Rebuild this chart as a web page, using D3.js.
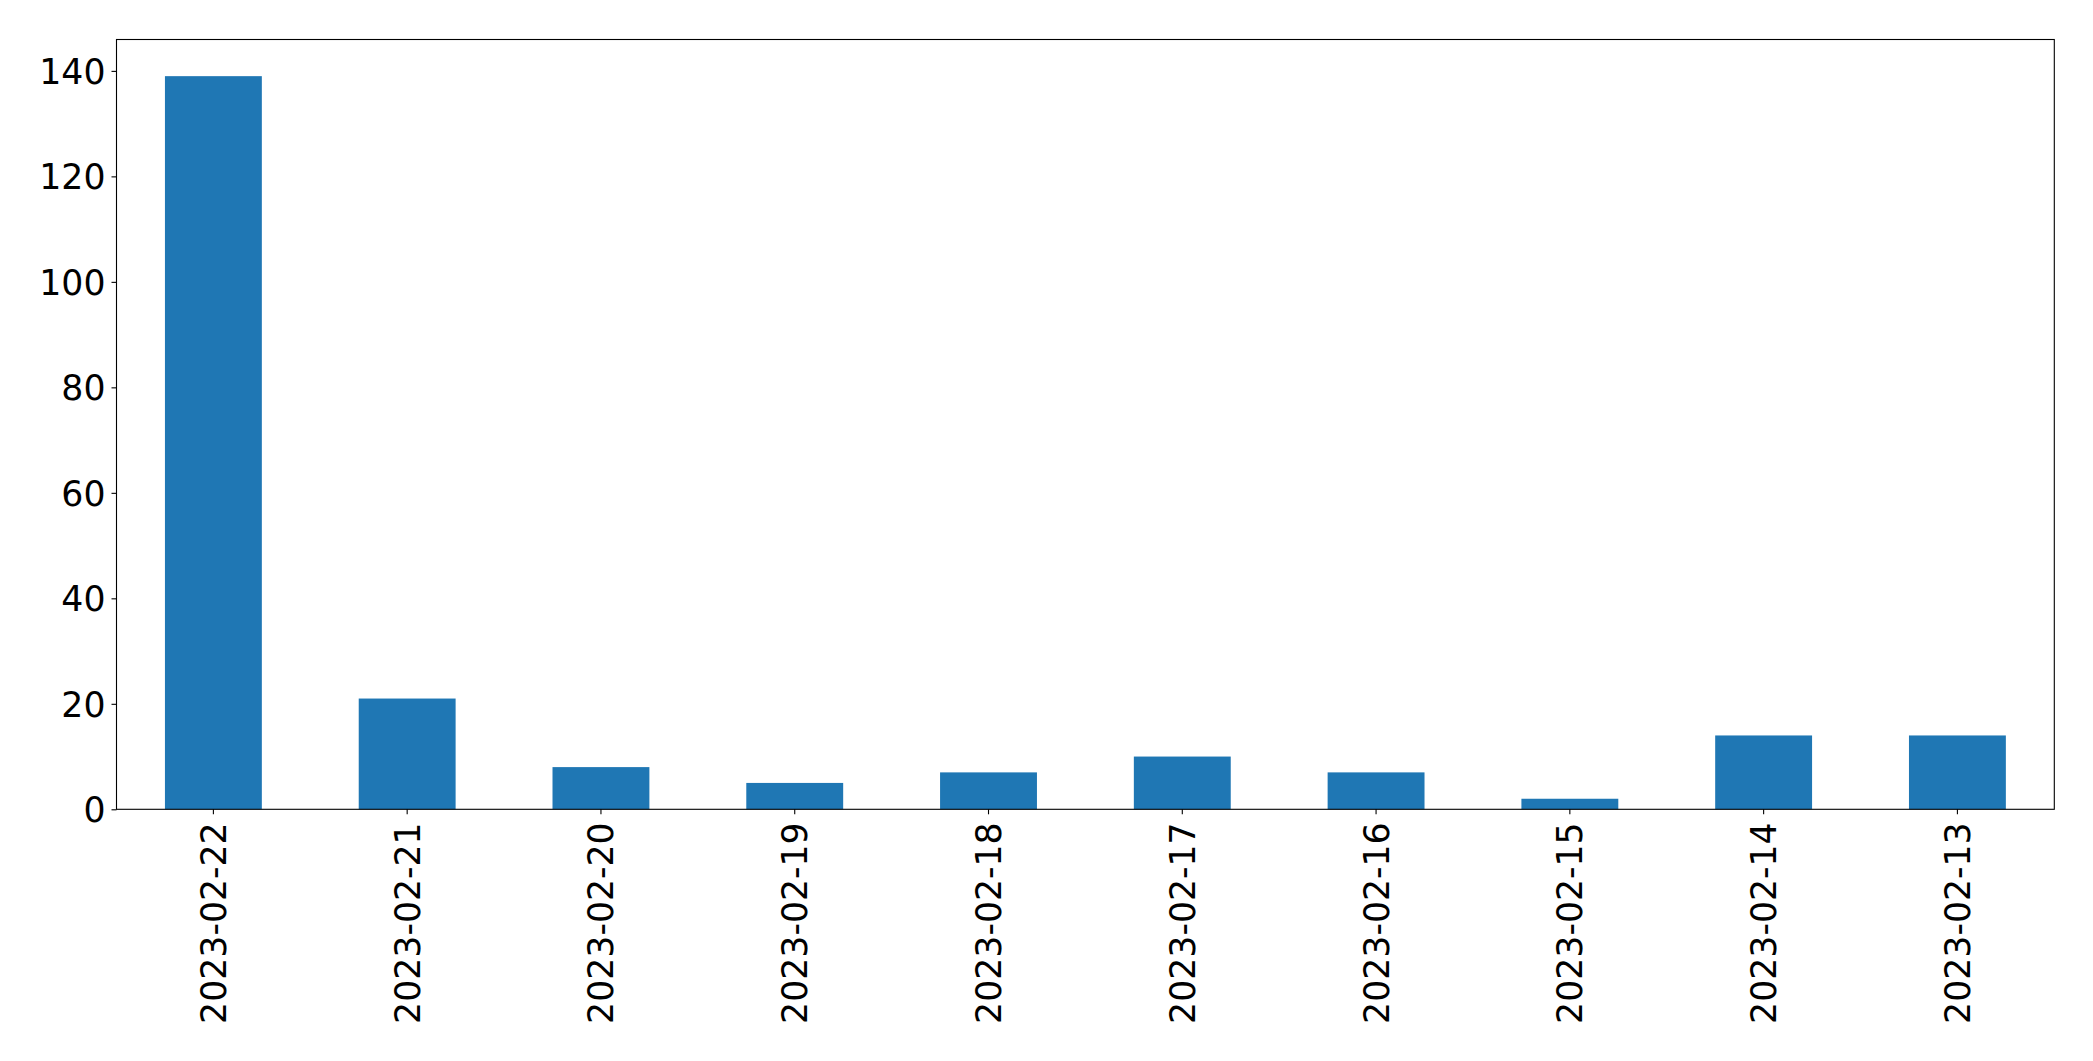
<!DOCTYPE html>
<html>
<head>
<meta charset="utf-8">
<script src="https://cdn.jsdelivr.net/npm/d3@7"></script>
<style>
  html, body { margin: 0; padding: 0; background: #fff; }
  svg { display: block; }
</style>
</head>
<body>
<svg id="chart" width="2093" height="1061"></svg>
<script>
const categories = ["2023-02-22","2023-02-21","2023-02-20","2023-02-19","2023-02-18","2023-02-17","2023-02-16","2023-02-15","2023-02-14","2023-02-13"];
const values = [139, 21, 8, 5, 7, 10, 7, 2, 14, 14];
const yTicks = [0, 20, 40, 60, 80, 100, 120, 140];

const W = 2093, H = 1061;
const margin = {left: 116.5, top: 39.5, right: W - 2054.3, bottom: H - 809.3};
const iw = W - margin.left - margin.right;
const ih = H - margin.top - margin.bottom;
const fontFamily = "'DejaVu Sans', sans-serif";
const fontSize = 34.7;

const svg = d3.select("#chart");
const g = svg.append("g").attr("transform", `translate(${margin.left},${margin.top})`);

const x = d3.scaleBand().domain(categories).range([0, iw]).paddingInner(0.5).paddingOuter(0.25);
const y = d3.scaleLinear().domain([0, d3.max(values) * 1.05]).range([ih, 0]);

g.selectAll("rect.bar").data(values).join("rect")
  .attr("class", "bar")
  .attr("x", (d, i) => x(categories[i]))
  .attr("width", x.bandwidth())
  .attr("y", d => y(d))
  .attr("height", d => y(0) - y(d))
  .attr("fill", "#1f77b4");

// Y axis
const yAxis = g.append("g").call(d3.axisLeft(y).tickValues(yTicks).tickSize(5).tickPadding(6).tickFormat(d3.format("d")));
yAxis.select(".domain").remove();
yAxis.selectAll(".tick line").attr("stroke", "#000").attr("stroke-width", 1.1);
yAxis.selectAll(".tick text").attr("font-family", fontFamily).attr("font-size", fontSize).attr("fill", "#000").attr("dy", "0.36em");

// X axis
const xAxis = g.append("g").attr("transform", `translate(0,${ih})`)
  .call(d3.axisBottom(x).tickSize(5).tickPadding(0));
xAxis.select(".domain").remove();
xAxis.selectAll(".tick line").attr("stroke", "#000").attr("stroke-width", 1.1);
xAxis.selectAll(".tick text")
  .attr("font-family", fontFamily).attr("font-size", fontSize).attr("fill", "#000")
  .attr("text-anchor", "end")
  .attr("transform", "translate(0,13) rotate(-90)")
  .attr("x", 0).attr("y", 0).attr("dy", "0.36em");

// Frame
g.append("rect").attr("x", 0).attr("y", 0).attr("width", iw).attr("height", ih)
  .attr("fill", "none").attr("stroke", "#000").attr("stroke-width", 1.1);
</script>
</body>
</html>
